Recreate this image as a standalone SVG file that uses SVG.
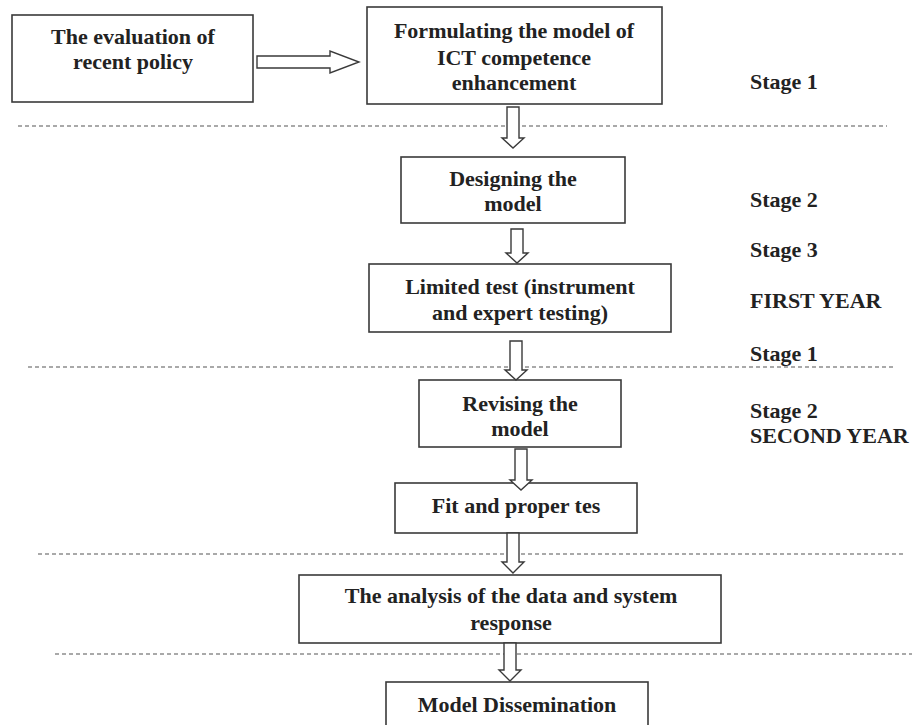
<svg xmlns="http://www.w3.org/2000/svg" width="912" height="725" viewBox="0 0 912 725">
<style>
.box{fill:#fff;stroke:#3a3a3a;stroke-width:1.6}
.t{font-family:"Liberation Serif","Times New Roman",serif;font-weight:bold;font-size:22px;fill:#222;text-anchor:middle}
.s{font-family:"Liberation Serif","Times New Roman",serif;font-weight:bold;font-size:22px;fill:#222}
.dash{stroke:#555;stroke-width:1.1;stroke-dasharray:4 3;fill:none}
.arr{fill:#fff;stroke:#3a3a3a;stroke-width:1.4;stroke-linejoin:miter}
</style>
<rect width="912" height="725" fill="#fff"/>
<g id="dividers">
<line class="dash" x1="18" y1="126" x2="887" y2="126"/>
<line class="dash" x1="28" y1="367" x2="895" y2="367"/>
<line class="dash" x1="38" y1="554" x2="906" y2="554"/>
<line class="dash" x1="55" y1="654" x2="912" y2="654"/>
</g>
<g id="n1"><rect class="box" x="12" y="15" width="241" height="87"/>
<text class="t" x="133" y="44">The evaluation of</text><text class="t" x="133" y="69">recent policy</text></g>
<g id="n2"><rect class="box" x="367" y="7" width="295" height="97"/>
<text class="t" x="514" y="38">Formulating the model of</text><text class="t" x="514" y="65">ICT competence</text><text class="t" x="514" y="90">enhancement</text></g>
<g id="n3"><rect class="box" x="401" y="157" width="224" height="66"/>
<text class="t" x="513" y="186">Designing the</text><text class="t" x="513" y="211">model</text></g>
<g id="n4"><rect class="box" x="369" y="264" width="302" height="68"/>
<text class="t" x="520" y="294">Limited test (instrument</text><text class="t" x="520" y="320">and expert testing)</text></g>
<g id="n5"><rect class="box" x="419" y="380" width="202" height="67"/>
<text class="t" x="520" y="411">Revising the</text><text class="t" x="520" y="436">model</text></g>
<g id="n6"><rect class="box" x="395" y="483" width="242" height="50"/>
<text class="t" x="516" y="513">Fit and proper tes</text></g>
<g id="n7"><rect class="box" x="299" y="575" width="422" height="68"/>
<text class="t" x="511" y="603">The analysis of the data and system</text><text class="t" x="511" y="630">response</text></g>
<g id="n8"><rect class="box" x="386" y="682" width="262" height="60"/>
<text class="t" x="517" y="712">Model Dissemination</text></g>
<g id="labels">
<text class="s" x="750" y="89">Stage 1</text>
<text class="s" x="750" y="207">Stage 2</text>
<text class="s" x="750" y="257">Stage 3</text>
<text class="s" x="750" y="308">FIRST YEAR</text>
<text class="s" x="750" y="361">Stage 1</text>
<text class="s" x="750" y="418">Stage 2</text>
<text class="s" x="750" y="443">SECOND YEAR</text>
</g>
<g id="connectors">
<path class="arr" d="M257 56H330V51L359 62L330 73V68H257Z"/>
<path class="arr" d="M507 107H519V138H524L513 148L502 138H507Z"/>
<path class="arr" d="M511 229H523V253H528L517 263L506 253H511Z"/>
<path class="arr" d="M510 341H522V370H527L516 380L505 370H510Z"/>
<path class="arr" d="M515 449H527V480H532L521 490L510 480H515Z"/>
<path class="arr" d="M507 533H519V562H524L513 573L502 562H507Z"/>
<path class="arr" d="M504 643H516V670H521L510 681L499 670H504Z"/>
</g>
</svg>
